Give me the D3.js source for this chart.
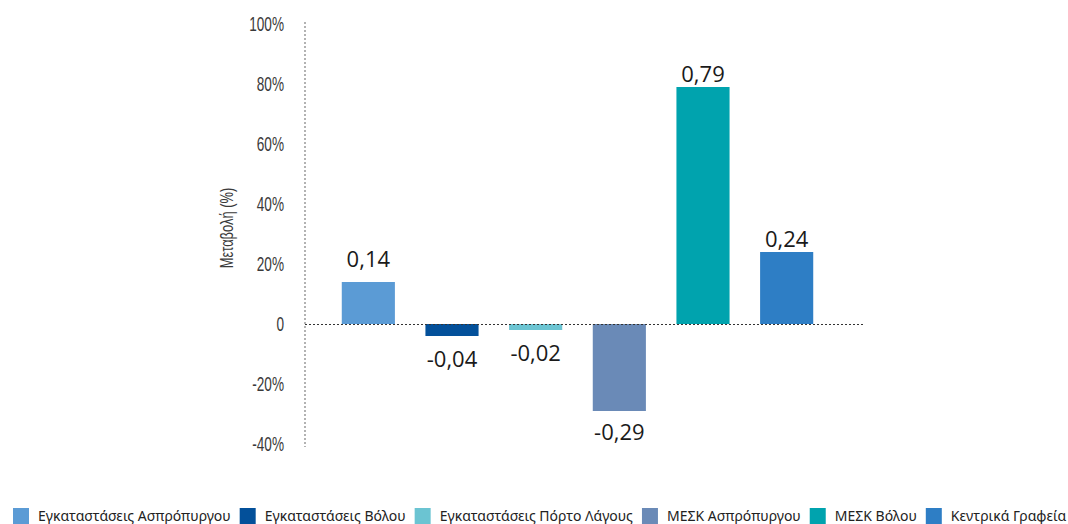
<!DOCTYPE html>
<html>
<head>
<meta charset="utf-8">
<script src="https://cdn.jsdelivr.net/npm/d3@7"></script>
<style>
  html, body { margin: 0; padding: 0; background: #fff; }
  svg { display: block; }
</style>
</head>
<body>
<svg id="chart" width="1068" height="524"></svg>
<script>
// Facilities and their change (as a fraction)
const categories = [
  "Εγκαταστάσεις Ασπρόπυργου",
  "Εγκαταστάσεις Βόλου",
  "Εγκαταστάσεις Πόρτο Λάγους",
  "ΜΕΣΚ Ασπρόπυργου",
  "ΜΕΣΚ Βόλου",
  "Κεντρικά Γραφεία"
];
const values = [0.14, -0.04, -0.02, -0.29, 0.79, 0.24];
const colors = ["#5b9bd5", "#03509a", "#6bc4d2", "#6a8ab7", "#00a3ae", "#2e7ec5"];
const tickValues = [1.0, 0.8, 0.6, 0.4, 0.2, 0, -0.2, -0.4];
const tickLabels = ["100%", "80%", "60%", "40%", "20%", "0", "-20%", "-40%"];
const axisTitle = "Μεταβολή (%)";

// extra vertical lift for individual value labels (px)
const labelLift = [10, 0, 0, 2, 0, 0];

const svg = d3.select("#chart");

const y = d3.scaleLinear().domain([-0.4, 1.0]).range([444, 24]);
const x = d3.scaleBand()
  .domain(categories)
  .range([326.5, 828.5])
  .paddingInner(0.365)
  .paddingOuter(0.1825);

const axisX = 305;

// dotted vertical axis
svg.append("line")
  .attr("x1", axisX).attr("x2", axisX)
  .attr("y1", y(1.0) - 2).attr("y2", y(-0.4) + 3)
  .attr("stroke", "#8a8a8a")
  .attr("stroke-width", 1.3)
  .attr("stroke-dasharray", "2,2");

// tick labels (condensed)
const tickG = svg.append("g");
tickValues.forEach((v, i) => {
  tickG.append("text")
    .attr("transform", `translate(284,${y(v) + 7}) scale(0.68,1)`)
    .attr("text-anchor", "end")
    .attr("font-family", "Liberation Sans, Arial, sans-serif")
    .attr("font-size", 20)
    .attr("fill", "#3a3a3a")
    .text(tickLabels[i]);
});

// axis title
svg.append("text")
  .attr("transform", `translate(233,228) rotate(-90) scale(0.68,1)`)
  .attr("text-anchor", "middle")
  .attr("font-family", "Liberation Sans, Arial, sans-serif")
  .attr("font-size", 19)
  .attr("fill", "#3a3a3a")
  .text(axisTitle);

// bars
svg.append("g").selectAll("rect")
  .data(values)
  .join("rect")
  .attr("x", (d, i) => x(categories[i]))
  .attr("width", x.bandwidth())
  .attr("y", d => y(Math.max(0, d)))
  .attr("height", d => Math.abs(y(d) - y(0)))
  .attr("fill", (d, i) => colors[i]);

// zero line
svg.append("line")
  .attr("x1", axisX).attr("x2", 863)
  .attr("y1", y(0) + 0.5).attr("y2", y(0) + 0.5)
  .attr("stroke", "#333")
  .attr("stroke-width", 1)
  .attr("stroke-dasharray", "2,2");

// value labels, decimal comma and plain hyphen for negatives
const fmt = d => d3.format(".2f")(Math.abs(d)).replace(".", ",");
svg.append("g").selectAll("text")
  .data(values)
  .join("text")
  .attr("x", (d, i) => x(categories[i]) + x.bandwidth() / 2)
  .attr("y", (d, i) => (d >= 0 ? y(d) - 5 : y(d) + 31) - labelLift[i])
  .attr("text-anchor", "middle")
  .attr("font-family", "Open Sans, Noto Sans, sans-serif")
  .attr("font-size", 22)
  .attr("fill", "#1a1a1a")
  .text(d => (d < 0 ? "-" : "") + fmt(d));

// legend, flowing left to right
const legend = svg.append("g");
let lx = 13;
categories.forEach((c, i) => {
  const g = legend.append("g");
  g.append("rect")
    .attr("x", lx).attr("y", 508)
    .attr("width", 16).attr("height", 16)
    .attr("fill", colors[i]);
  const t = g.append("text")
    .attr("x", lx + 25).attr("y", 521)
    .attr("font-family", "Noto Sans, Open Sans, sans-serif")
    .attr("font-size", 14)
    .attr("fill", "#222")
    .text(c);
  const w = t.node().getComputedTextLength();
  lx += 25 + w + 9;
});
</script>
</body>
</html>
